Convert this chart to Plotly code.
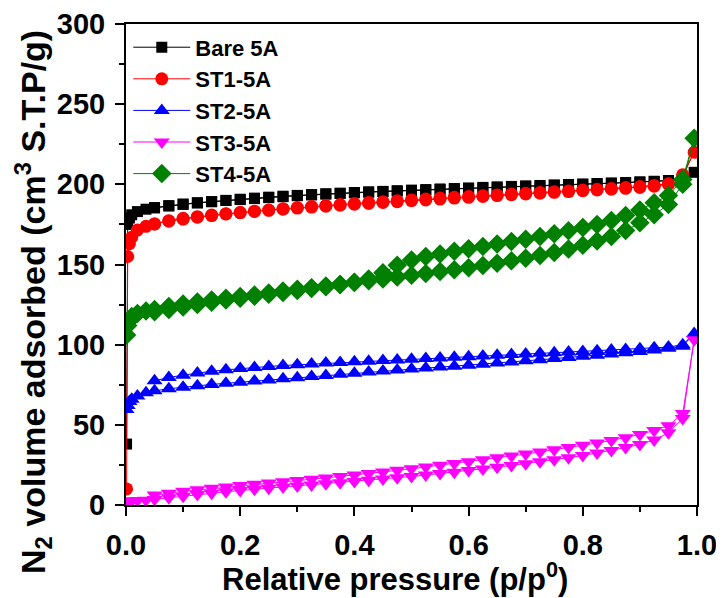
import plotly.graph_objects as go

# Relative pressure grids (adsorption up, desorption down)
P_ADS = [0.001, 0.003, 0.006, 0.01, 0.02, 0.035, 0.05, 0.075, 0.1, 0.125, 0.15, 0.175,
         0.2, 0.225, 0.25, 0.275, 0.3, 0.325, 0.35, 0.375, 0.4, 0.425, 0.45, 0.475,
         0.5, 0.525, 0.55, 0.575, 0.6, 0.625, 0.65, 0.675, 0.7, 0.725, 0.75, 0.775,
         0.8, 0.825, 0.85, 0.875, 0.9, 0.925, 0.95, 0.975, 0.995]
P_DES = [0.975, 0.95, 0.925, 0.9, 0.875, 0.85, 0.825, 0.8, 0.775, 0.75, 0.725, 0.7,
         0.675, 0.65, 0.625, 0.6, 0.575, 0.55, 0.525, 0.5, 0.475, 0.45, 0.425, 0.4,
         0.375, 0.35, 0.325, 0.3, 0.275, 0.25, 0.225, 0.2, 0.175, 0.15, 0.125, 0.1,
         0.075, 0.05]

BARE_ADS = [38, 175, 179, 181, 183, 184.5, 185.5, 186.7, 187.7, 188.5, 189.2, 189.9,
            190.5, 191.1, 191.7, 192.3, 192.9, 193.4, 193.9, 194.3, 194.7, 195.1, 195.5, 195.8,
            196.1, 196.5, 196.8, 197.1, 197.5, 197.8, 198.1, 198.5, 198.8, 199.1, 199.4, 199.7,
            200.0, 200.4, 200.7, 201.0, 201.4, 201.8, 202.3, 203.5, 207.5]
BARE_DES = [204, 202.4, 201.9, 201.5, 201.1, 200.8, 200.5, 200.2, 199.9, 199.6, 199.3, 199.0,
            198.7, 198.4, 198.1, 197.7, 197.4, 197.1, 196.7, 196.4, 196.0, 195.6, 195.3, 194.9,
            194.5, 194.1, 193.6, 193.1, 192.6, 192.0, 191.4, 190.7, 190.0, 189.2, 188.4, 187.5,
            186.5, 185.3]

ST1_ADS = [10, 155, 163, 167, 171.5, 173.8, 175.3, 177.3, 178.8, 179.8, 180.8, 181.6,
           182.4, 183.1, 183.8, 184.5, 185.2, 185.8, 186.4, 187.0, 187.6, 188.1, 188.7, 189.2,
           189.8, 190.3, 190.8, 191.4, 191.9, 192.4, 193.0, 193.5, 194.0, 194.5, 195.0, 195.5,
           196.0, 196.5, 197.0, 197.5, 198.1, 198.8, 200.0, 205.0, 220.0]
ST1_DES = [206, 200.3, 199.3, 198.6, 198.0, 197.4, 196.9, 196.4, 195.9, 195.4, 194.9, 194.4,
           193.9, 193.4, 192.9, 192.4, 191.9, 191.4, 190.9, 190.3, 189.8, 189.2, 188.6, 188.0,
           187.4, 186.8, 186.1, 185.5, 184.8, 184.0, 183.2, 182.4, 181.5, 180.5, 179.5, 178.3,
           177.0, 175.3]

ST2_ADS = [59.5, 62, 64.5, 66, 68, 70, 71.2, 72.5, 73.5, 74.4, 75.2, 75.9,
           76.6, 77.3, 78.0, 78.7, 79.4, 80.1, 80.8, 81.5, 82.2, 82.9, 83.6, 84.2,
           84.8, 85.4, 86.0, 86.6, 87.2, 87.8, 88.5, 89.2, 89.9, 90.6, 91.3, 92.0,
           92.7, 93.4, 94.2, 95.0, 95.8, 96.7, 97.7, 99.0, 107.0]
ST2_DES = [100, 98.5, 98.0, 97.5, 97.0, 96.6, 96.2, 95.8, 95.4, 95.0, 94.6, 94.2,
           93.8, 93.4, 93.0, 92.5, 92.1, 91.7, 91.3, 90.9, 90.5, 90.1, 89.7, 89.3,
           88.9, 88.5, 88.0, 87.5, 87.0, 86.4, 85.8, 85.1, 84.3, 83.4, 82.3, 81.0,
           79.5, 77.5]

ST3_ADS = [2, 2.2, 2.4, 2.6, 2.8, 3.0, 3.5, 4.5, 5.5, 6.5, 7.4, 8.3,
           9.1, 9.8, 10.5, 11.2, 11.8, 12.5, 13.2, 13.9, 14.6, 15.4, 16.2, 17.0,
           17.8, 18.7, 19.6, 20.5, 21.5, 22.5, 23.6, 24.7, 25.8, 27.0, 28.2, 29.5,
           30.9, 32.4, 34.0, 35.8, 37.8, 40.5, 45.0, 54.0, 103.0]
ST3_DES = [57, 49.5, 46.5, 44.0, 42.0, 40.3, 38.7, 37.2, 35.8, 34.4, 33.1, 31.8,
           30.6, 29.4, 28.2, 27.0, 25.9, 24.8, 23.7, 22.6, 21.6, 20.6, 19.6, 18.7,
           17.8, 16.9, 16.1, 15.3, 14.5, 13.7, 12.9, 12.1, 11.3, 10.4, 9.5, 8.5,
           7.4, 6.2]

ST4_ADS = [106, 112, 115, 117.5, 119.5, 121, 122, 123.8, 125.3, 126.6, 127.8, 129,
           130, 131, 132.2, 133.4, 134.5, 135.5, 136.6, 137.6, 138.7, 139.8, 141, 142.2,
           143.3, 144.4, 145.6, 146.8, 148, 149.3, 150.8, 152.3, 153.9, 155.6, 157.5, 159.6,
           162, 164.6, 167.5, 171.2, 176, 181, 187.5, 200, 228.8]
ST4_DES = [203, 193, 188.5, 184, 180.5, 177.5, 175, 173, 171, 169.2, 167.5, 165.8,
           164.3, 162.8, 161.3, 159.8, 158.2, 156.6, 155, 152.8, 149.5, 144.8, 141, 139,
           137.5, 136.2, 135, 133.8, 132.6, 131.4, 130.2, 129, 127.8, 126.5, 125, 123.5,
           122, 120.5]

SERIES = [
    ("Bare 5A", BARE_ADS, BARE_DES, "#000000", "square", 11),
    ("ST1-5A", ST1_ADS, ST1_DES, "#ff0000", "circle", 13),
    ("ST2-5A", ST2_ADS, ST2_DES, "#0000ff", "triangle-up", 14),
    ("ST3-5A", ST3_ADS, ST3_DES, "#ff00ff", "triangle-down", 14),
    ("ST4-5A", ST4_ADS, ST4_DES, "#008000", "diamond", 15),
]

FONT = "Liberation Sans, Arial, sans-serif"

fig = go.Figure()
for name, ads, des, color, sym, size in SERIES:
    fig.add_trace(go.Scatter(
        x=P_ADS + P_DES, y=ads + des, mode="lines+markers", name=name,
        line=dict(color=color, width=1),
        marker=dict(symbol=sym, size=size, color=color, line=dict(width=0)),
    ))

# page body has an 8px default margin, so the figure is drawn 8px in from the corner
fig.update_layout(
    width=716, height=590,
    margin=dict(l=118, r=27, t=16, b=93, autoexpand=False),
    paper_bgcolor="white", plot_bgcolor="white",
    font=dict(family=FONT, color="black"),
    showlegend=True,
    legend=dict(x=0.004, y=0.995, xanchor="left", yanchor="top",
                bgcolor="rgba(0,0,0,0)", font=dict(size=22, weight="bold"),
                itemwidth=57, tracegroupgap=0),
    xaxis=dict(range=[0, 1], tickvals=[0, 0.2, 0.4, 0.6, 0.8, 1.0],
               ticktext=["0.0", "0.2", "0.4", "0.6", "0.8", "1.0"],
               ticks="outside", ticklen=9, tickwidth=2, tickcolor="black",
               minor=dict(dtick=0.1, ticks="outside", ticklen=5, tickwidth=2, tickcolor="black"),
               showline=True, linewidth=2, linecolor="black", mirror=True,
               showgrid=False, zeroline=False, automargin=False,
               tickfont=dict(size=29, weight="bold"), ticklabelstandoff=4),
    yaxis=dict(range=[0, 300], tickvals=[0, 50, 100, 150, 200, 250, 300],
               ticks="outside", ticklen=9, tickwidth=2, tickcolor="black",
               minor=dict(dtick=25, ticks="outside", ticklen=5, tickwidth=2, tickcolor="black"),
               showline=True, linewidth=2, linecolor="black", mirror=True,
               showgrid=False, zeroline=False, automargin=False,
               tickfont=dict(size=29, weight="bold"), ticklabelstandoff=4),
    annotations=[
        dict(text="<b>Relative pressure (p/p<sup>0</sup>)</b>", xref="paper", yref="paper",
             x=(395 - 126) / 571, y=-(577 - 505) / 481, xanchor="center", yanchor="middle",
             showarrow=False, font=dict(size=31)),
        dict(text="<b>N<sub>2</sub> volume adsorbed (cm<sup>3</sup> S.T.P/g)</b>",
             xref="paper", yref="paper", textangle=-90,
             x=-(126 - 33) / 571, y=(505 - 302) / 481, xanchor="center", yanchor="middle",
             showarrow=False, font=dict(size=34)),
    ],
)

fig.write_html("out.html")
